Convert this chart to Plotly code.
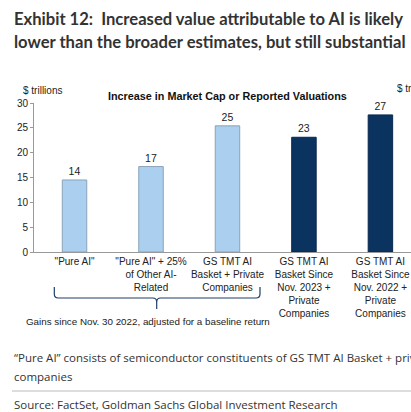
import plotly.graph_objects as go

categories = ['"Pure AI"', '"Pure AI" + 25%<br>of Other AI-<br>Related',
              'GS TMT AI<br>Basket + Private<br>Companies',
              'GS TMT AI<br>Basket Since<br>Nov. 2023 +<br>Private<br>Companies',
              'GS TMT AI<br>Basket Since<br>Nov. 2022 +<br>Private<br>Companies']
values = [14.5, 17.2, 25.4, 23.1, 27.6]
labels = ["14", "17", "25", "23", "27"]
colors = ["#abd0ef", "#abd0ef", "#abd0ef", "#0b3360", "#0b3360"]
outlines = ["#8aa2b8", "#8aa2b8", "#8aa2b8", "#08284d", "#08284d"]
yticks = [0, 5, 10, 15, 20, 25, 30]

W, H = 411, 412
L, R, T, B = 34, 0, 103, 160
pw, ph = W - L - R, H - T - B

def px(x):
    return (x - L) / pw

def py(y):
    return (H - B - y) / ph

fig = go.Figure()
fig.add_trace(go.Bar(
    x=list(range(len(categories))), y=values, width=0.32,
    marker=dict(color=colors, line=dict(color=outlines, width=1)),
    text=labels, textposition="outside", cliponaxis=False,
    textfont=dict(family="Liberation Sans, Arial", size=10.5, color="#222"),
))

# brace
l, c, r = 54.3, 156.7, 260.0
y0, y1, y2 = 287.0, 298.0, 309.0
rad = 4
pts = (f"M {px(l)},{py(y0)} L {px(l)},{py(y1-rad)} Q {px(l)},{py(y1)} {px(l+rad)},{py(y1)} "
       f"L {px(c-rad)},{py(y1)} Q {px(c)},{py(y1)} {px(c)},{py(y1+rad)} L {px(c)},{py(y2)} "
       f"M {px(c)},{py(y1+rad)} Q {px(c)},{py(y1)} {px(c+rad)},{py(y1)} "
       f"L {px(r-rad)},{py(y1)} Q {px(r)},{py(y1)} {px(r)},{py(y1-rad)} L {px(r)},{py(y0)}")
fig.add_shape(type="path", path=pts, xref="paper", yref="paper",
              line=dict(color="#1f3d66", width=1.2))

# separator line
fig.add_shape(type="line", xref="paper", yref="paper",
              x0=px(12), x1=px(411), y0=py(391), y1=py(391),
              line=dict(color="#bbbbbb", width=1))

sans = "Liberation Sans, Arial"
body = "Open Sans"
head = "Lato"
ann = [
    dict(text="<b>Exhibit 12:  Increased value attributable to AI is likely</b>", x=12, y=19,
         font=dict(family=head, size=16.6, color="#333")),
    dict(text="<b>lower than the broader estimates, but still substantial</b>", x=12, y=42,
         font=dict(family=head, size=16.6, color="#333")),
    dict(text="<b>Increase in Market Cap or Reported Valuations</b>", x=227, y=96, xanchor="center",
         font=dict(family=sans, size=10.8, color="#111")),
    dict(text="$ trillions", x=42, y=91, xanchor="center",
         font=dict(family=sans, size=10, color="#222")),
    dict(text="$ trillions", x=395, y=89,
         font=dict(family=sans, size=10, color="#222")),
    dict(text="Gains since Nov. 30 2022, adjusted for a baseline return", x=148, y=321, xanchor="center",
         font=dict(family=sans, size=9.8, color="#222")),
    dict(text="“Pure AI” consists of semiconductor constituents of GS TMT AI Basket + private", x=12, y=357,
         font=dict(family=body, size=11.5, color="#333")),
    dict(text="companies", x=12, y=376,
         font=dict(family=body, size=11.5, color="#333")),
    dict(text="Source: FactSet, Goldman Sachs Global Investment Research", x=12, y=404,
         font=dict(family=body, size=11.5, color="#333")),
]
for a in ann:
    fig.add_annotation(text=a["text"], x=px(a["x"]), y=py(a["y"]), xref="paper", yref="paper",
                       xanchor=a.get("xanchor", "left"), yanchor="middle", showarrow=False,
                       font=a["font"])

fig.update_layout(
    width=W, height=H, margin=dict(l=L, r=R, t=T, b=B),
    paper_bgcolor="white", plot_bgcolor="white", showlegend=False,
    xaxis=dict(range=[-0.53, 4.40], tickmode="array", tickvals=list(range(len(categories))),
               ticktext=categories, showgrid=False, zeroline=False, showline=True,
               linecolor="#999", linewidth=1, ticks="",
               tickfont=dict(family=sans, size=10, color="#222")),
    yaxis=dict(range=[0, 30], tickvals=yticks, showgrid=False, zeroline=False,
               showline=True, linecolor="#999", linewidth=1, ticks="outside",
               ticklen=3, tickcolor="#999",
               tickfont=dict(family=sans, size=10, color="#222")),
)
fig.write_html("out.html", config={"displayModeBar": False},
               post_script="document.body.style.margin='0';document.body.style.overflow='hidden';")
